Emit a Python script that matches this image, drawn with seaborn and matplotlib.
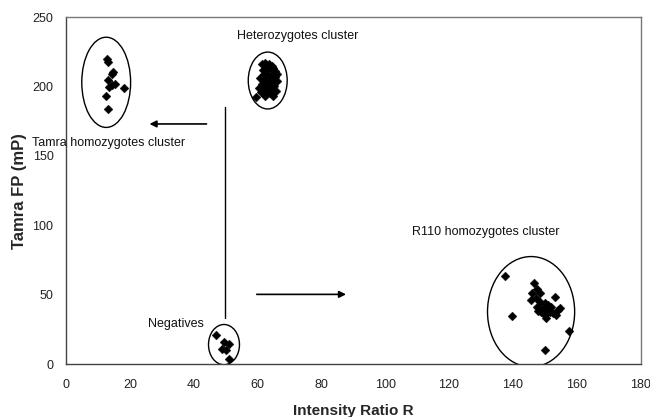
import matplotlib
matplotlib.use("Agg")
import matplotlib.pyplot as plt
from matplotlib.patches import Ellipse
import seaborn as sns
import pandas as pd

# ---- data ----
tamra_x = [12.9, 13.3, 14.8, 14.4, 13.2, 14.3, 15.3, 13.5, 18.1, 12.4, 13.2]
tamra_y = [220, 218, 210.7, 208.7, 204.6, 201, 201.5, 199.3, 199, 193, 183.6]

het_x = [61.5, 62.5, 63.5, 64.5, 65.0, 61.8, 63.0, 64.2, 65.5, 66.0, 62.0, 63.2,
         64.4, 65.6, 60.8, 62.2, 63.6, 64.8, 66.2, 61.5, 62.8, 64.0, 65.2, 60.5,
         61.8, 63.0, 64.5, 65.8, 62.5, 63.8, 64.6, 61.0, 59.5, 62.3, 64.9]
het_y = [216, 217, 216.5, 215, 213, 212, 213, 212.5, 211, 209, 209, 208.5,
         208, 207, 206, 205.5, 205, 204.5, 204, 202, 201.5, 201, 200, 199,
         198.5, 198, 197.5, 197, 195.5, 195, 194.5, 196, 192.5, 193, 193.5]

neg_x = [47.0, 49.6, 51.0, 49.0, 50.1, 51.0]
neg_y = [21.0, 16.0, 14.2, 10.5, 10.0, 3.5]

r110_x = [146.6, 147.7, 146.0, 148.4, 147.1, 145.8, 148.4, 150.0, 147.4, 151.0,
          152.0, 149.5, 147.9, 150.8, 153.1, 154.1, 150.2, 152.6, 153.6, 151.5,
          148.9, 150.5, 154.7, 137.5, 139.6, 157.6, 150.2]
r110_y = [58.1, 53.8, 50.9, 50.9, 47.3, 46.1, 44.9, 43.7, 41.3, 42.5,
          41.3, 40.1, 38.2, 38.9, 48.5, 38.9, 35.3, 36.5, 35.3, 37.7,
          37.7, 32.9, 40.1, 63.4, 34.6, 23.8, 10.1]

x_ticks = [0, 20, 40, 60, 80, 100, 120, 140, 160, 180]
y_ticks = [0, 50, 100, 150, 200, 250]

# cluster outlines: (center x, center y, width, height)
ellipses = [(12.6, 203, 15.3, 65), (63.2, 204.3, 12.2, 41),
            (49.5, 14, 9.7, 29), (145.7, 37.7, 27.3, 79.5)]

labels = ["Heterozygotes cluster", "Tamra homozygotes cluster",
          "R110 homozygotes cluster", "Negatives"]
label_pos = [(53.5, 236.5), (-10.6, 159), (108.3, 95.3), (25.6, 28.5)]

df = pd.DataFrame({
    "R": tamra_x + het_x + neg_x + r110_x,
    "FP": tamra_y + het_y + neg_y + r110_y,
})

sns.set_style("white")
plt.rcParams["font.family"] = ["Liberation Sans", "DejaVu Sans"]

fig = plt.figure(figsize=(6.5, 4.17), dpi=100)
ax = fig.add_axes([0.1015, 0.127, 0.884, 0.832])

sns.scatterplot(data=df, x="R", y="FP", marker="D", color="black",
                s=20, edgecolor="black", linewidth=0.3, ax=ax, zorder=3)

for cx, cy, w, h in ellipses:
    ax.add_patch(Ellipse((cx, cy), w, h, fill=False, edgecolor="black", lw=1.0))

for txt, (tx, ty) in zip(labels, label_pos):
    ax.text(tx, ty, txt, fontsize=9, ha="left", va="center", clip_on=False,
            color="#111111")

# vertical connector and arrows
ax.plot([49.9, 49.9], [33, 185], color="black", lw=1.0)
ax.annotate("", xy=(25.3, 173), xytext=(44.9, 173),
            arrowprops=dict(arrowstyle="-|>", color="black", lw=1.2,
                            mutation_scale=10))
ax.annotate("", xy=(88.6, 50.2), xytext=(58.9, 50.2),
            arrowprops=dict(arrowstyle="-|>", color="black", lw=1.2,
                            mutation_scale=10))

ax.set_xlim(0, 180)
ax.set_ylim(0, 250)
ax.set_xticks(x_ticks)
ax.set_yticks(y_ticks)
ax.tick_params(axis="both", direction="out", length=4, width=0.8,
               color="#555555", labelsize=9, labelcolor="#222222", pad=5)
ax.tick_params(axis="x", pad=7)
for side in ["left", "bottom"]:
    ax.spines[side].set_color("#444444")
    ax.spines[side].set_linewidth(1.0)
for side in ["top", "right"]:
    ax.spines[side].set_color("#777777")
    ax.spines[side].set_linewidth(1.0)

ax.set_xlabel("Intensity Ratio R", fontsize=11, fontweight="bold", labelpad=9)
ax.set_ylabel("Tamra FP (mP)", fontsize=12, fontweight="bold", labelpad=4)

fig.savefig("out.png", dpi=100)
